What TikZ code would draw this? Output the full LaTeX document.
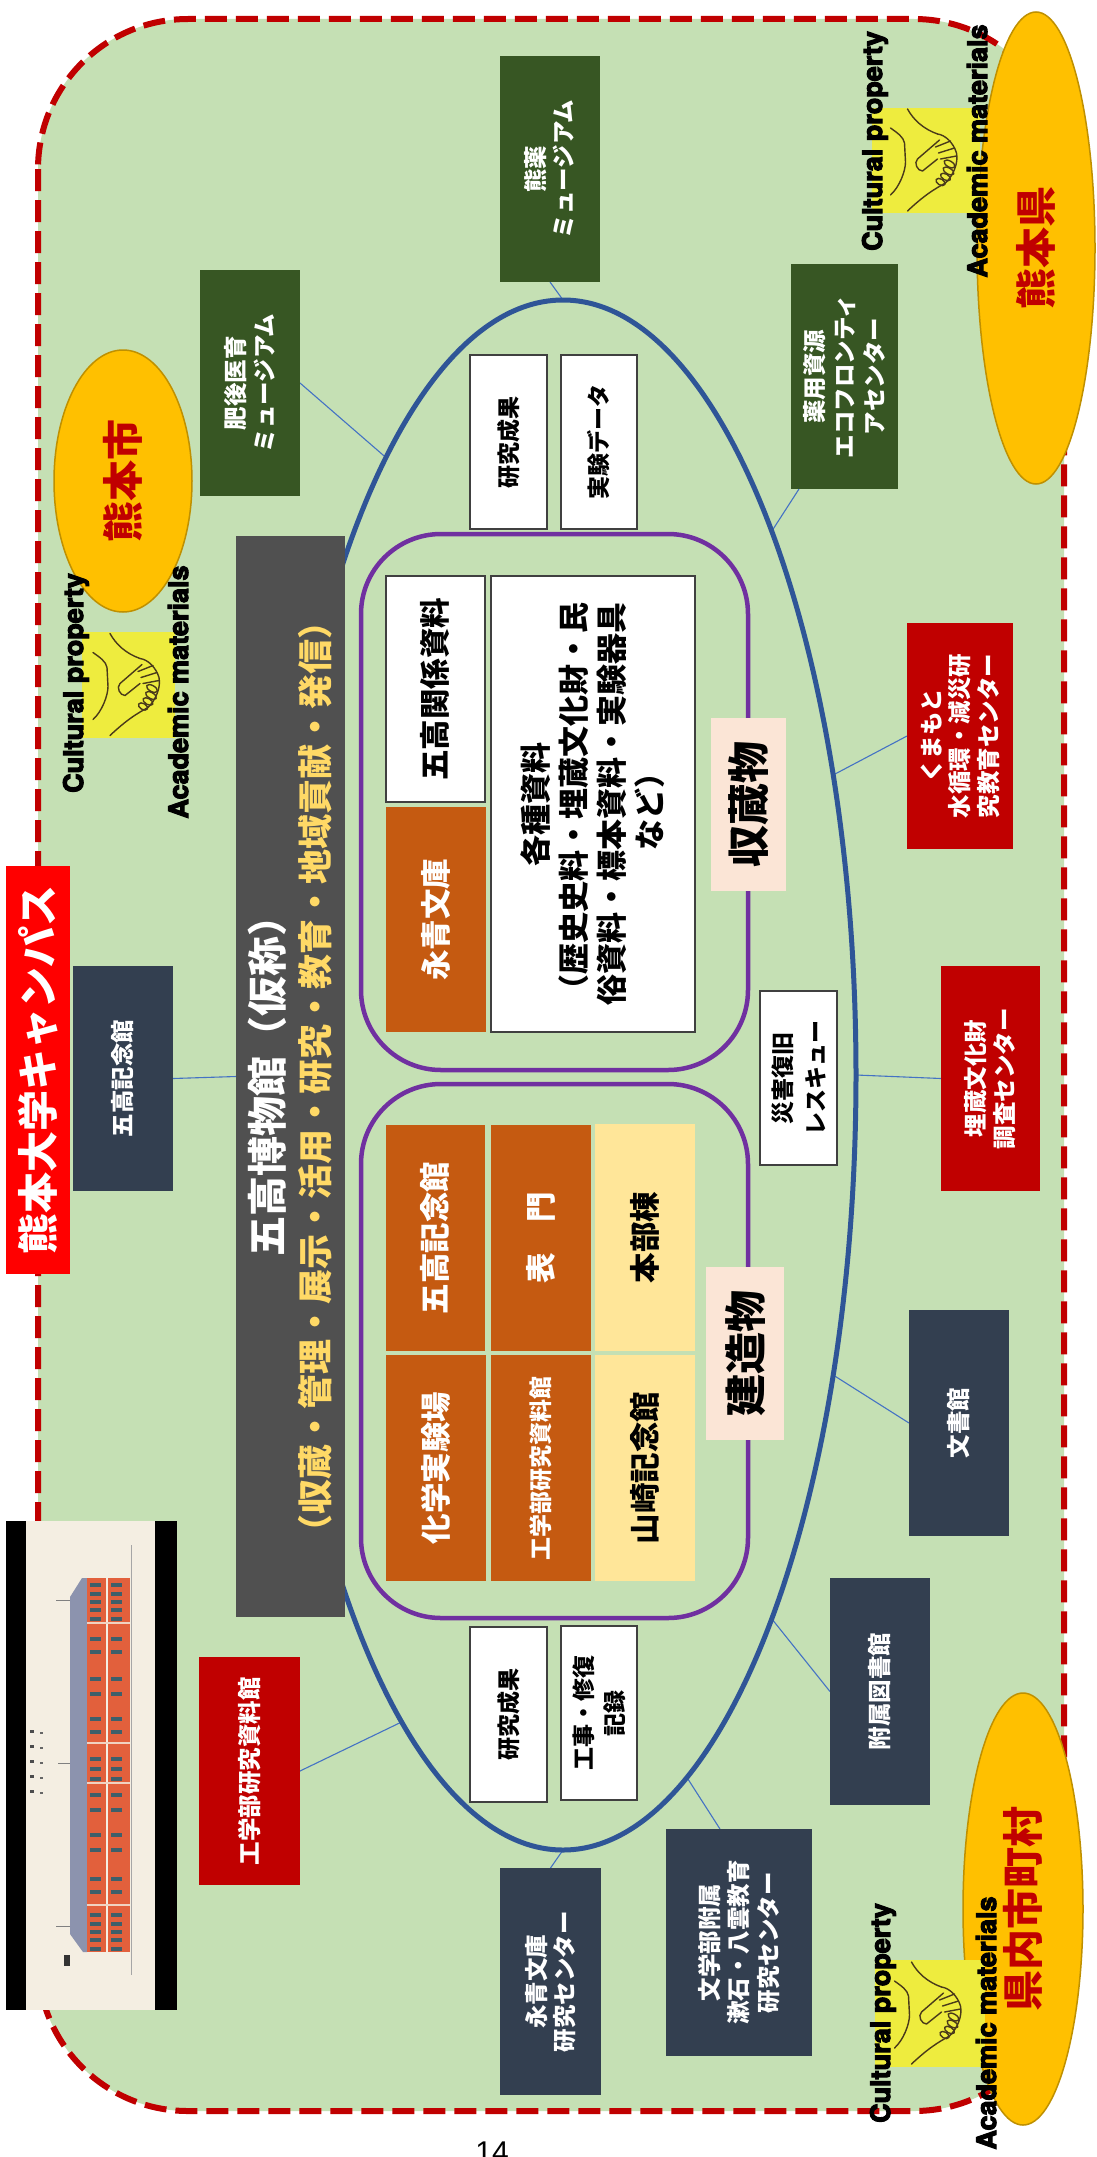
\documentclass[tikz,border=0pt]{standalone}
\usepackage{fontspec}
\usepackage{graphicx}
\usetikzlibrary{shapes.geometric}
\newfontfamily\jp{Noto Sans CJK JP}
\newfontfamily\en{Liberation Sans}
\newfontfamily\enb{texgyreheros-bold.otf}[FakeBold=4]

\definecolor{bggreen}{HTML}{C5E0B4}
\definecolor{dashred}{HTML}{C00000}
\definecolor{darkred}{HTML}{C00000}
\definecolor{brightred}{HTML}{FF0000}
\definecolor{navy}{HTML}{333F50}
\definecolor{dgreen}{HTML}{375623}
\definecolor{rust}{HTML}{C55A11}
\definecolor{paleyel}{HTML}{FFE699}
\definecolor{peach}{HTML}{FBE5D6}
\definecolor{grayhead}{HTML}{505050}
\definecolor{titleyel}{HTML}{FFD966}
\definecolor{ellblue}{HTML}{2F5597}
\definecolor{linkblue}{HTML}{4472C4}
\definecolor{purp}{HTML}{7030A0}
\definecolor{amber}{HTML}{FFC000}
\definecolor{amberdk}{HTML}{BF9000}
\definecolor{hsyel}{RGB}{238,236,62}
\definecolor{hsline}{HTML}{4A3A1A}
\definecolor{paper}{HTML}{F4EEE2}
\definecolor{brick}{HTML}{E2603C}
\definecolor{roofgray}{HTML}{8C93AE}
\definecolor{wincol}{HTML}{3E5F6A}

% vertical (rotated) text block: size, line skip, lines
\newcommand\vt[3]{\rotatebox{90}{\fontsize{#1}{#2}\selectfont\vbox{\kern0.25em\hbox{\begin{tabular}{@{}c@{}}#3\end{tabular}}}}}
% box by its corners: name, style, x1, y1, x2, y2, content
\newcommand\card[7]{\node[#2, minimum width={#5-#3}, minimum height={#6-#4}] (#1) at ({(#3+#5)/2},{(#4+#6)/2}) {#7};}
% handshake emblem in a yellow square: name, x, y, w, h
\newcommand\handshake[5]{%
  \node[fill=hsyel, minimum width={#4}, minimum height={#5}] (#1) at ({#2+#4/2},{#3+#5/2}) {};
  \begin{scope}[shift={({#2+(#4-93)/2},{#3+(#5-107)/2})}, draw=hsline, line width=1.4pt, line cap=round, line join=round]
    \draw (28,2) .. controls (34,13) and (44,22) .. (58,27);
    \draw (58,27) .. controls (66,28) and (74,36) .. (77,46) .. controls (79,56) and (74,68) .. (66,76);
    \draw (66,76) .. controls (55,82) and (45,88) .. (28,104);
    \draw (11,21) .. controls (18,26) and (24,30) .. (25,36) -- (26,55) .. controls (26,64) and (20,80) .. (11,88);
    \draw (60,33) -- (38,52) .. controls (34,56) and (38,64) .. (43,64) -- (58,52);
    \draw (56,40) -- (71,34);
    \draw (59,46) -- (75,41);
    \draw (61,52) -- (77,49);
    \draw[rotate around={-30:(70,57)}] (70,57) ellipse [x radius=6pt, y radius=3pt];
    \draw[rotate around={-30:(69,64)}] (69,64) ellipse [x radius=6pt, y radius=3pt];
    \draw[rotate around={-30:(66,70)}] (66,70) ellipse [x radius=5.5pt, y radius=3pt];
    \draw[rotate around={-30:(61,75)}] (61,75) ellipse [x radius=5pt, y radius=3pt];
  \end{scope}}

\pgfdeclarelayer{bg}
\pgfdeclarelayer{wires}
\pgfsetlayers{bg,wires,main}

\begin{document}
\begin{tikzpicture}[x=1pt, y=-1pt,
  every node/.style={inner sep=0pt, outer sep=0pt, font=\jp\bfseries},
  card/.style={rectangle, align=center},
  greencard/.style={card, fill=dgreen, text=white},
  navycard/.style={card, fill=navy, text=white},
  redcard/.style={card, fill=darkred, text=white},
  campuscard/.style={card, fill=brightred, text=white},
  rustcard/.style={card, fill=rust, text=white},
  whitecard/.style={card, fill=white, draw=black!75, line width=1.2pt, text=black},
  yellowcard/.style={card, fill=paleyel, text=black},
  peachcard/.style={card, fill=peach, text=black},
  graycard/.style={card, fill=grayhead, text=white},
  frame/.style={rectangle, draw=purp, line width=4.5pt, rounded corners=80pt},
  amberell/.style={ellipse, fill=amber, draw=amberdk, line width=1.5pt, text=darkred},
  link/.style={draw=linkblue, line width=1.1pt},
  englabel/.style={rotate=90, anchor=base, font=\enb\fontsize{27}{32}\selectfont, text=black}]

\useasboundingbox (0,0) rectangle (1096,2157);

\begin{pgfonlayer}{bg}
  \fill[white] (0,0) rectangle (1096,2157);
  \draw[fill=bggreen, draw=dashred, line width=6pt, dash pattern=on 22pt off 9pt, rounded corners=150pt]
    (38,19) rectangle (1064,2111);
\end{pgfonlayer}

% municipalities
\node[amberell, minimum width=138pt, minimum height=262pt] (city) at (123,481) {\vt{41}{48}{熊本市}};
\node[amberell, minimum width=118pt, minimum height=472pt] (pref) at (1036,248) {\vt{41}{48}{熊本県}};
\node[amberell, minimum width=120pt, minimum height=432pt] (towns) at (1023,1909) {\vt{41}{48}{県内市町村}};

% campus network ring
\node[ellipse, draw=ellblue, line width=5pt, minimum width=586pt, minimum height=1550pt] (ell) at (563,1075) {};

% collection and building groups
\card{store}{frame}{361}{534}{748}{1070}{}
\card{build}{frame}{361}{1084}{748}{1618}{}

\card{campus}{campuscard}{6}{866}{70}{1274}{\vt{41}{48}{熊本大学キャンパス}}

\card{museum}{graycard}{236}{536}{345}{1617}{\rotatebox{90}{\fontsize{40}{46}\selectfont\vbox{\kern10pt\hbox{\begin{tabular}{@{}c@{}}五高博物館（仮称）\\{\fontsize{35}{46}\selectfont\color{titleyel}（収蔵・管理・展示・活用・研究・教育・地域貢献・発信）}\end{tabular}}}}}

% outer partner facilities
\card{kuyaku}{greencard}{500}{56}{600}{282}{\vt{23.5}{28}{熊薬\\ミュージアム}}
\card{higo}{greencard}{200}{270}{300}{496}{\vt{23.5}{29.5}{肥後医育\\ミュージアム}}
\card{yakuyo}{greencard}{791}{264}{898}{489}{\vt{23.5}{30}{薬用資源\\エコフロンティ\\アセンター}}
\card{mizu}{redcard}{907}{623}{1013}{849}{\vt{23.5}{28}{くまもと\\水循環・減災研\\究教育センター}}
\card{maizo}{redcard}{941}{966}{1040}{1191}{\vt{23.5}{29}{埋蔵文化財\\調査センター}}
\card{bunsho}{navycard}{909}{1310}{1009}{1536}{\vt{23.5}{29}{文書館}}
\card{tosho}{navycard}{830}{1578}{930}{1805}{\vt{23.5}{29}{附属図書館}}
\card{bungaku}{navycard}{666}{1829}{812}{2056}{\vt{23.5}{29.5}{文学部附属\\漱石・八雲教育\\研究センター}}
\card{eiseic}{navycard}{500}{1868}{601}{2095}{\vt{23.5}{28}{永青文庫\\研究センター}}
\card{kougaku}{redcard}{199}{1657}{300}{1885}{\vt{23.5}{29}{工学部研究資料館}}
\card{gokinen}{navycard}{73}{966}{173}{1191}{\vt{23.5}{29}{五高記念館}}

% inner items
\card{resA}{whitecard}{470}{355}{547}{529}{\vt{23}{28}{研究成果}}
\card{data}{whitecard}{561}{355}{637}{529}{\vt{23}{28}{実験データ}}
\card{goshiryo}{whitecard}{386}{576}{485}{802}{\vt{30.5}{36}{五高関係資料}}
\card{eiseibunko}{rustcard}{386}{807}{486}{1032}{\vt{30.5}{36}{永青文庫}}
\card{kakushu}{whitecard}{491}{576}{695}{1032}{\vt{31}{38}{各種資料\\（歴史史料・埋蔵文化財・民\\俗資料・標本資料・実験器具\\など）}}
\card{shuzo}{peachcard}{711}{718}{786}{891}{\vt{42}{48}{収蔵物}}
\card{gokinenin}{rustcard}{386}{1125}{485}{1351}{\vt{30.5}{36}{五高記念館}}
\card{kagaku}{rustcard}{386}{1355}{486}{1581}{\vt{30.5}{36}{化学実験場}}
\card{omote}{rustcard}{491}{1125}{591}{1351}{\vt{30.5}{36}{表　門}}
\card{kougakuin}{rustcard}{491}{1355}{591}{1581}{\vt{23}{28}{工学部研究資料館}}
\card{honbu}{yellowcard}{595}{1124}{695}{1351}{\vt{30.5}{36}{本部棟}}
\card{yamasaki}{yellowcard}{595}{1355}{695}{1581}{\vt{30.5}{36}{山崎記念館}}
\card{kenzo}{peachcard}{706}{1267}{784}{1440}{\vt{42}{48}{建造物}}
\card{resB}{whitecard}{470}{1627}{547}{1802}{\vt{23}{28}{研究成果}}
\card{kouji}{whitecard}{561}{1626}{637}{1800}{\vt{23}{31}{工事・修復\\記録}}
\card{saigai}{whitecard}{760}{991}{837}{1165}{\vt{23}{33}{災害復旧\\レスキュー}}

% elevation drawing of the Goko main building
\fill[black] (6,1521) rectangle (177,2010);
\fill[paper] (26,1521) rectangle (155,2010);
\fill[roofgray] (82,1578) -- (87,1578) -- (87,1952) -- (83,1952) -- (70,1934) -- (70,1597) -- cycle;
\fill[brick] (87,1578) rectangle (130,1952);
\draw[paper, line width=1.2pt] (107,1578) -- (107,1952);
\foreach \yy in {1623,1743,1783,1905} \draw[paper!80!brick, line width=1.5pt] (87,\yy) -- (130,\yy);
\foreach \yy in {1583,1592,1600,1608,1617,1637,1650,1677,1692,1717,1730,1757,1767,1777,1793,1808,1833,1848,1877,1890,1913,1922,1930,1938,1947}
  {\fill[wincol] (90,\yy) rectangle (101,\yy+3.5); \fill[wincol] (111,\yy) rectangle (122,\yy+3.5);}
\draw[gray!70, line width=0.6pt] (131,1545) -- (131,1975);
\draw[gray, line width=0.6pt] (56,1600) -- (70,1600) (56,1926) -- (70,1926) (58,1763) -- (70,1763);
\foreach \yy in {1730,1745,1760,1775,1790} {\fill[black!70] (30,\yy) rectangle (34,\yy+3); \fill[black!60] (40,\yy+2) rectangle (43,\yy+4);}
\fill[black!80] (64,1955) rectangle (70,1966);

% handshake emblems
\handshake{hsA}{872}{108}{108}{105}
\handshake{hsB}{82}{632}{93}{106}
\handshake{hsC}{875}{1960}{110}{107}

\node[englabel] (cpA) at (882,141) {Cultural property};
\node[englabel] (amA) at (987,151) {Academic materials};
\node[englabel] (cpB) at (83,683) {Cultural property};
\node[englabel] (amB) at (188,692) {Academic materials};
\node[englabel] (cpC) at (890,2013) {Cultural property};
\node[englabel] (amC) at (996,2023) {Academic materials};

\node[font=\en\fontsize{30}{36}\selectfont, anchor=base] (pageno) at (492,2162) {14};

% links from facilities to the ring
\begin{pgfonlayer}{wires}
  \draw[link] (kuyaku.south) -- (ell.90);
  \draw[link] (higo.east) -- (ell.106);
  \draw[link] ([xshift=8pt]yakuyo.south west) -- (ell.69);
  \draw[link] (mizu.west) -- (ell.48);
  \draw[link] (maizo.west) -- (ell.0);
  \draw[link] (bunsho.west) -- (ell.312);
  \draw[link] (tosho.west) -- (ell.291);
  \draw[link] ([xshift=-19pt]bungaku.north) -- (ell.280);
  \draw[link] (eiseic.north) -- (ell.270);
  \draw[link] (kougaku.east) -- (ell.256);
  \draw[link] (gokinen.east) -- (museum.west);
\end{pgfonlayer}
\end{tikzpicture}
\end{document}
